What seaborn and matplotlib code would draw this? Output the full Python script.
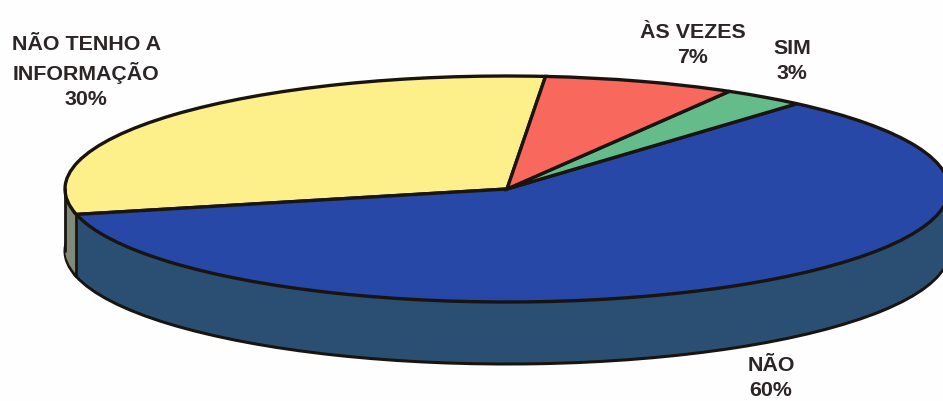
import matplotlib
matplotlib.use("Agg")
import matplotlib.pyplot as plt
import numpy as np
import seaborn as sns

sns.set_theme(style="white")
plt.rcParams['font.family'] = ['Liberation Sans', 'DejaVu Sans']

categories = ["NÃO TENHO A\nINFORMAÇÃO", "NÃO", "SIM", "ÀS VEZES"]
values = [30, 60, 3, 7]
top_colors = ["#FDF08A", "#2748A6", "#63BC8A", "#F9685C"]
side_colors = ["#7F8A78", "#2A4F72", "#2F6A55", "#8A3A33"]
label_pos = [(86, 72), (771, 378), (792, 61), (693, 45)]

W, H = 943, 401
CX, CY, RX, RY, DEPTH = 507, 189, 442, 113, 62
START = 85

fig = plt.figure(figsize=(W / 100, H / 100), dpi=100, facecolor="#FEFEFE")
ax = fig.add_axes([0, 0, 1, 1])
depth_u = DEPTH / RY

# The pie is drawn in a circle, then the axes limits flatten it into an ellipse.
ax.pie(values, startangle=START, counterclock=True, colors=side_colors, radius=1,
       center=(0, -depth_u), wedgeprops=dict(edgecolor="#1A1410", linewidth=2.2))
for d in np.linspace(depth_u, 0, 32)[1:-1]:
    ax.pie(values, startangle=START, counterclock=True, colors=side_colors, radius=1,
           center=(0, -d), wedgeprops=dict(edgecolor="none", linewidth=0))
ax.pie(values, startangle=START, counterclock=True, colors=top_colors, radius=1,
       center=(0, 0), wedgeprops=dict(edgecolor="#1A1410", linewidth=2.4))

# silhouette and slice edge on the side wall
edge_ang = np.deg2rad(START + 360 * values[0] / sum(values))
for x0, y0 in [(-1, 0), (np.cos(edge_ang), np.sin(edge_ang))]:
    ax.plot([x0, x0], [y0, y0 - depth_u], color="#1A1410", lw=2.0, zorder=5)

ax.set_aspect("auto")
ax.set_xlim(-CX / RX, (W - CX) / RX)
ax.set_ylim((CY - H) / RY, CY / RY)
ax.axis("off")

for name, val, (px, py) in zip(categories, values, label_pos):
    ax.text(px / W, 1 - py / H, f"{name}\n{val}%", transform=ax.transAxes,
            ha="center", va="center", fontsize=15.4, fontweight="bold",
            color="#2B2526", linespacing=1.4)

fig.savefig("out.png", dpi=100, facecolor=fig.get_facecolor())
